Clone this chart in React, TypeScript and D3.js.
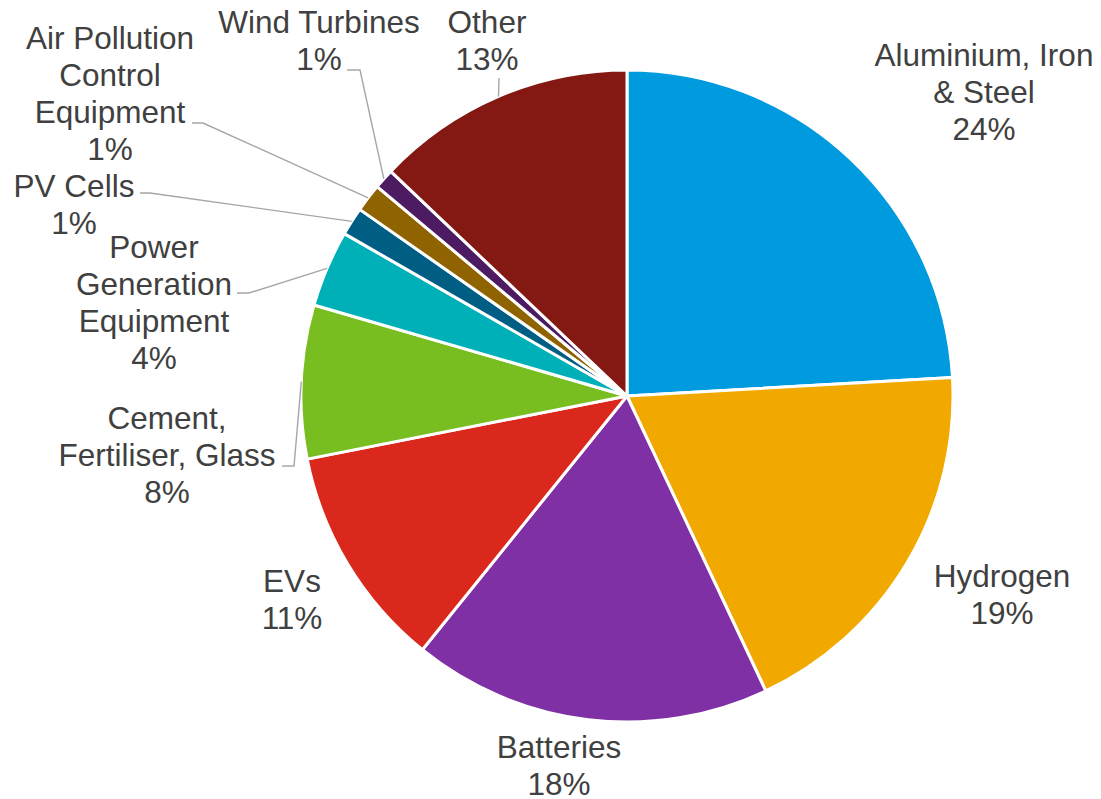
import React from "react";
import * as d3 from "d3";

const categories = [
  "Aluminium, Iron & Steel",
  "Hydrogen",
  "Batteries",
  "EVs",
  "Cement, Fertiliser, Glass",
  "Power Generation Equipment",
  "PV Cells",
  "Air Pollution Control Equipment",
  "Wind Turbines",
  "Other",
];
const shares = [24.1, 18.9, 17.8, 11.1, 7.6, 3.8, 1.4, 1.4, 1.0, 12.9];
const percentLabels = ["24%", "19%", "18%", "11%", "8%", "4%", "1%", "1%", "1%", "13%"];
const labelLines = [
  ["Aluminium, Iron", "& Steel"],
  ["Hydrogen"],
  ["Batteries"],
  ["EVs"],
  ["Cement,", "Fertiliser, Glass"],
  ["Power", "Generation", "Equipment"],
  ["PV Cells"],
  ["Air Pollution", "Control", "Equipment"],
  ["Wind Turbines"],
  ["Other"],
];
const colors = [
  "#009ADF", "#F1A900", "#7F30A5", "#DA291C", "#78BE21",
  "#00B0B9", "#005E84", "#8E6300", "#4D1B62", "#841813",
];

// label layout: center x, first baseline
const labelPos: [number, number][] = [
  [984, 66], [1002, 587], [559, 758], [292, 592], [167, 429],
  [154, 258], [74, 197], [110, 49], [319, 33], [487, 33],
];
// leader line starts (null = none)
const leaderStart: ([number, number, number] | null)[] = [
  null, null, null, null,
  [282, 294, 466],
  [237, 249, 293],
  [140, 150, 193],
  [192, 203, 123],
  [347, 360, 70],
  [499, 499, 78],
];

const W = 1101, H = 799;
const CX = 627, CY = 396, R = 326;
const LH = 37;

export default function App() {
  const pie = d3.pie<number>().sort(null).value((d) => d).startAngle(0).endAngle(2 * Math.PI);
  const arcs = pie(shares);
  const arc = d3.arc<d3.PieArcDatum<number>>().innerRadius(0).outerRadius(R);

  return (
    <svg width={W} height={H} style={{ position: "absolute", left: 0, top: 0, background: "#fff" }}
      fontFamily="'Liberation Sans', Arial, sans-serif">
      <rect width={W} height={H} fill="#fff" />
      <g transform={`translate(${CX},${CY})`}>
        {arcs.map((a, i) => (
          <path key={categories[i]} d={arc(a) || ""} fill={colors[i]} stroke="#fff" strokeWidth={3} strokeLinejoin="round" />
        ))}
      </g>
      {arcs.map((a, i) => {
        const ls = leaderStart[i];
        if (!ls) return null;
        const mid = (a.startAngle + a.endAngle) / 2;
        const ex = CX + R * Math.sin(mid);
        const ey = CY - R * Math.cos(mid);
        return (
          <polyline key={"l" + i}
            points={`${ls[0]},${ls[2]} ${ls[1]},${ls[2]} ${ex},${ey}`}
            fill="none" stroke="#A6A6A6" strokeWidth={1.4} />
        );
      })}
      {labelLines.map((lines, i) => {
        const [x, y] = labelPos[i];
        const all = [...lines, percentLabels[i]];
        return (
          <text key={"t" + i} x={x} y={y} textAnchor="middle" fontSize={31.5} fill="#404040">
            {all.map((s, j) => (
              <tspan key={j} x={x} y={y + j * LH}>{s}</tspan>
            ))}
          </text>
        );
      })}
    </svg>
  );
}
